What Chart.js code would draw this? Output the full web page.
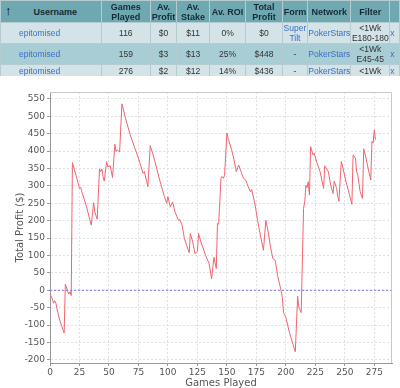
<!DOCTYPE html>
<html><head><meta charset="utf-8">
<script src="https://cdn.jsdelivr.net/npm/chart.js@4/dist/chart.umd.min.js"></script>
<style>
html,body{margin:0;padding:0;background:#fff;width:400px;height:388px;overflow:hidden;}
#wrap{position:absolute;left:0;top:0;width:400px;height:388px;}
#tbl{position:absolute;left:0;top:0;width:400px;height:76px;overflow:hidden;z-index:2;}
table{border-collapse:collapse;table-layout:fixed;font-family:"Liberation Sans",Arial,sans-serif;font-size:8.5px;color:#333;border-left:1px solid #4d6a70;}
td,th{border:1px solid #b4cbd0;text-align:center;padding:0;line-height:10px;overflow:hidden;white-space:nowrap;}
th{background:#6fa8b1;color:#132c36;font-weight:bold;height:21px;font-size:9px;}
tr.r1 td{background:#d3e3e7;height:20px;}
tr.r2 td{background:#a9cdd5;height:20px;}
tr.r3 td{background:#d3e3e7;height:11px;}
.l{color:#3a6fc4;}
td.u{text-align:left;padding-left:18px;}
</style></head>
<body>
<div id="wrap"><canvas id="c" width="400" height="388"></canvas></div>
<div id="tbl">
<table>
<colgroup><col style="width:103px"><col style="width:50px"><col style="width:27px"><col style="width:33px"><col style="width:37px"><col style="width:37px"><col style="width:26px"><col style="width:41px"><col style="width:39px"><col style="width:10px"></colgroup>
<tr><th style="text-align:left;padding-left:4px"><span style="font-size:13px;color:#000">&#x2191;</span><span style="margin-left:22px">Username</span></th><th>Games<br>Played</th><th>Av.<br>Profit</th><th>Av.<br>Stake</th><th>Av. ROI</th><th>Total<br>Profit</th><th>Form</th><th>Network</th><th>Filter</th><th></th></tr>
<tr class="r1"><td class="u l">epitomised</td><td>116</td><td>$0</td><td>$11</td><td>0%</td><td>$0</td><td class="l">Super<br>Tilt</td><td class="l">PokerStars</td><td>&lt;1Wk<br>E180-180</td><td class="l" style="text-align:left">x</td></tr>
<tr class="r2"><td class="u l">epitomised</td><td>159</td><td>$3</td><td>$13</td><td>25%</td><td>$448</td><td>-</td><td class="l">PokerStars</td><td>&lt;1Wk<br>E45-45</td><td class="l" style="text-align:left">x</td></tr>
<tr class="r3"><td class="u l">epitomised</td><td>276</td><td>$2</td><td>$12</td><td>14%</td><td>$436</td><td>-</td><td class="l">PokerStars</td><td>&lt;1Wk</td><td class="l" style="text-align:left">x</td></tr>
</table>
</div>
<script>
const games = [0,2,3,4,5,6,8,12,13,15,16,17,18,19,22,25,26,27,31,35,37,38,40,42,43,44,45,46,48,49,51,53,55,56,57,59,61,64,68,72,75,78,79,80,83,85,87,89,93,97,99,100,102,104,106,109,110,112,114,118,119,121,123,125,126,128,132,135,137,139,141,142,143,145,146,147,148,150,151,154,156,158,160,162,164,166,168,170,171,174,176,179,181,183,185,187,189,191,193,196,197,198,200,203,206,208,210,211,213,215,216,217,218,219,220,221,223,224,226,229,232,233,236,238,240,241,243,244,245,247,248,251,254,256,257,259,260,261,263,265,266,268,270,272,273,274,275,276];
const profit = [-11,-25,-37,-30,-37,-54,-83,-123,18,-3,-11,-4,-15,367,331,293,296,283,240,187,252,225,204,349,341,349,327,314,370,355,358,324,420,399,404,397,536,495,447,408,380,346,336,341,298,416,394,370,317,269,250,269,240,254,225,201,204,187,148,108,163,139,105,112,163,139,100,76,33,95,62,192,190,324,327,322,330,452,437,404,375,341,360,341,322,317,298,283,290,245,201,148,115,201,168,124,91,86,42,-1,-20,-64,-78,-121,-155,-177,-17,-49,-64,235,254,302,295,312,274,413,389,394,370,341,293,358,341,302,278,314,293,269,256,370,358,312,274,247,389,380,341,331,283,264,407,380,346,317,428,423,461,433];
const zeroLine = [0, 290];
const xTicks = {min:0, max:290, step:25};
const yTicks = {min:-209, max:570, step:50};

const frame = {
  id:'frame',
  afterDraw(ch){
    const a = ch.chartArea, c = ch.ctx;
    c.save();
    c.strokeStyle = '#c8c8c8'; c.lineWidth = 1;
    c.beginPath();
    c.moveTo(a.left, a.top+0.5); c.lineTo(a.right-0.5, a.top+0.5); c.lineTo(a.right-0.5, a.bottom);
    c.stroke();
    c.restore();
  }
};

new Chart(document.getElementById('c'), {
  type:'line',
  data:{datasets:[
    {data: zeroLine.map(x=>({x:x,y:0})), borderColor:'#7777ee', borderWidth:1, borderDash:[2,2], pointRadius:0, fill:false},
    {data: games.map((g,i)=>({x:g,y:profit[i]})), borderColor:'#f06470', borderWidth:1, pointRadius:0, tension:0, fill:false}
  ]},
  options:{
    responsive:false, animation:false,
    layout:{padding:{top:92,right:8,left:0,bottom:0}},
    plugins:{legend:{display:false}, tooltip:{enabled:false}},
    scales:{
      x:{type:'linear', min:xTicks.min, max:xTicks.max,
        afterFit(s){s.height=25;},
        ticks:{stepSize:xTicks.step, includeBounds:false, autoSkip:false, maxRotation:0, padding:1, color:'#555', font:{family:'"DejaVu Sans", sans-serif', size:9}},
        grid:{color:'#e0e0e0', tickLength:3, tickColor:'#999'},
        border:{display:true, color:'#999', dash:[2,2]},
        title:{display:true, text:'Games Played', color:'#555', font:{family:'"DejaVu Sans", sans-serif', size:10, lineHeight:1}, padding:{top:0,bottom:0}}
      },
      y:{type:'linear', min:yTicks.min, max:yTicks.max,
        afterFit(s){s.width=50;},
        ticks:{stepSize:yTicks.step, includeBounds:false, autoSkip:false, padding:2, color:'#555', font:{family:'"DejaVu Sans", sans-serif', size:9}},
        grid:{color:'#e0e0e0', tickLength:3, tickColor:'#999'},
        border:{display:true, color:'#999', dash:[2,2]},
        title:{display:true, text:'Total Profit ($)', color:'#555', font:{family:'"DejaVu Sans", sans-serif', size:10, lineHeight:1}, padding:{top:15,bottom:0}}
      }
    }
  },
  plugins:[frame]
});
</script>
</body></html>
